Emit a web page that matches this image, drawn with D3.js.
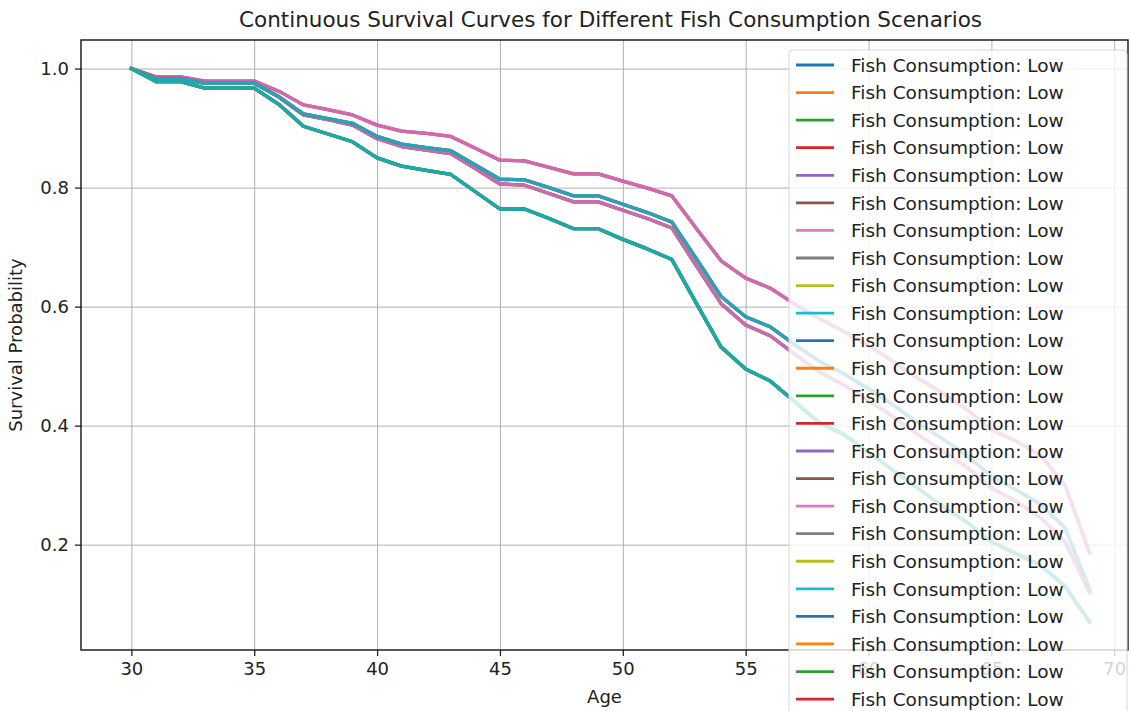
<!DOCTYPE html>
<html>
<head>
<meta charset="utf-8">
<script src="https://cdn.jsdelivr.net/npm/d3@7"></script>
<style>
    body { margin: 0; background: #fff; }
    text { font-family: "DejaVu Sans", sans-serif; fill: #222; }
</style>
</head>
<body>
<svg id="chart" width="1130" height="711"></svg>
<script>
// ages on the x axis
const ages = [30, 31, 32, 33, 34, 35, 36, 37, 38, 39, 40, 41, 42, 43, 44, 45, 46, 47, 48, 49,
    50, 51, 52, 53, 54, 55, 56, 57, 58, 59, 60, 61, 62, 63, 64, 65, 66, 67, 68, 69];

// the four distinct curves that the series fall on
const survivalA = [1.000, 0.986, 0.986, 0.979, 0.979, 0.979, 0.962, 0.939, 0.931, 0.922,
    0.905, 0.895, 0.891, 0.886, 0.866, 0.846, 0.845, 0.834, 0.823, 0.823,
    0.811, 0.799, 0.786, 0.731, 0.677, 0.648, 0.631, 0.604, 0.580, 0.558,
    0.535, 0.508, 0.480, 0.455, 0.427, 0.393, 0.374, 0.350, 0.300, 0.186];
const survivalB = [1.000, 0.984, 0.984, 0.976, 0.976, 0.976, 0.952, 0.922, 0.914, 0.905,
    0.882, 0.869, 0.863, 0.857, 0.832, 0.806, 0.804, 0.790, 0.776, 0.776,
    0.762, 0.748, 0.732, 0.668, 0.605, 0.569, 0.551, 0.520, 0.490, 0.468,
    0.443, 0.415, 0.385, 0.358, 0.330, 0.295, 0.273, 0.245, 0.205, 0.119];
const survivalC = [1.000, 0.983, 0.983, 0.975, 0.975, 0.975, 0.953, 0.924, 0.916, 0.908,
    0.886, 0.873, 0.867, 0.862, 0.838, 0.814, 0.813, 0.800, 0.786, 0.786,
    0.772, 0.758, 0.742, 0.680, 0.617, 0.583, 0.566, 0.536, 0.508, 0.487,
    0.462, 0.435, 0.405, 0.378, 0.350, 0.315, 0.292, 0.268, 0.228, 0.125];
const survivalD = [1.000, 0.978, 0.978, 0.967, 0.967, 0.967, 0.940, 0.903, 0.890, 0.877,
    0.850, 0.836, 0.829, 0.822, 0.793, 0.764, 0.764, 0.748, 0.731, 0.731,
    0.713, 0.697, 0.679, 0.605, 0.532, 0.495, 0.475, 0.440, 0.405, 0.385,
    0.355, 0.325, 0.295, 0.265, 0.238, 0.205, 0.185, 0.165, 0.130, 0.070];
const curves = [survivalA, survivalB, survivalC, survivalD];

// 24 legend entries, all with the same label; which curve each one follows
const seriesLabel = "Fish Consumption: Low";
const seriesCurve = [2, 2, 3, 0, 1, 1, 1, 3, 3, 3, 2, 2, 3, 1, 0, 1, 0, 3, 3, 2, 3, 2, 3, 0];
// order the lines are painted in (last one ends on top)
const drawOrder = [3, 23, 14, 16, 5, 13, 15, 4, 6, 1, 11, 21, 10, 0, 19, 7, 17, 8, 18, 2, 12, 22, 20, 9];

const xTicks = [30, 35, 40, 45, 50, 55, 60, 65, 70];
const yTicks = [0.2, 0.4, 0.6, 0.8, 1.0];

(function () {
    const colors = d3.schemeCategory10;

    let svg = d3.select("#chart");
    let plotLeft = 81, plotRight = 1128, plotTop = 40, plotBottom = 650;

    let x = d3.scaleLinear().domain([27.95, 70.56]).range([plotLeft, plotRight]);
    let y = d3.scaleLinear().domain([0.023, 1.048]).range([plotBottom, plotTop]);

    svg.append("defs").append("clipPath").attr("id", "plotClip")
        .append("rect")
        .attr("x", plotLeft).attr("y", plotTop)
        .attr("width", plotRight - plotLeft).attr("height", plotBottom - plotTop);

    // grid
    svg.append("g")
        .attr("transform", `translate(0,${plotBottom})`)
        .call(d3.axisBottom(x).tickValues(xTicks).tickSize(-(plotBottom - plotTop)).tickFormat(""))
        .call(g => g.select(".domain").remove())
        .selectAll("line").attr("stroke", "#b0b0b0").attr("stroke-width", 1);
    svg.append("g")
        .attr("transform", `translate(${plotLeft},0)`)
        .call(d3.axisLeft(y).tickValues(yTicks).tickSize(-(plotRight - plotLeft)).tickFormat(""))
        .call(g => g.select(".domain").remove())
        .selectAll("line").attr("stroke", "#b0b0b0").attr("stroke-width", 1);

    // lines
    let line = d3.line()
        .x((d, i) => x(ages[i]))
        .y(d => y(d));

    svg.append("g").attr("clip-path", "url(#plotClip)")
        .selectAll("path")
        .data(drawOrder)
        .enter()
        .append("path")
        .attr("d", s => line(curves[seriesCurve[s]]))
        .attr("fill", "none")
        .attr("stroke", s => colors[s % 10])
        .attr("stroke-opacity", 0.6)
        .attr("stroke-width", 3.3)
        .attr("stroke-linejoin", "round")
        .attr("stroke-linecap", "square");

    // axes
    let xAxis = svg.append("g")
        .attr("transform", `translate(0,${plotBottom})`)
        .call(d3.axisBottom(x).tickValues(xTicks).tickSize(6).tickPadding(6).tickFormat(d3.format("d")));
    let yAxis = svg.append("g")
        .attr("transform", `translate(${plotLeft},0)`)
        .call(d3.axisLeft(y).tickValues(yTicks).tickSize(6).tickPadding(6).tickFormat(d3.format(".1f")));
    [xAxis, yAxis].forEach(a => {
        a.select(".domain").remove();
        a.selectAll("line").attr("stroke", "#222").attr("stroke-width", 1.3);
        a.selectAll("text").style("font-family", "DejaVu Sans").style("font-size", "18px").attr("fill", "#222");
    });

    // spines
    svg.append("rect")
        .attr("x", plotLeft).attr("y", plotTop)
        .attr("width", plotRight - plotLeft).attr("height", plotBottom - plotTop)
        .attr("fill", "none").attr("stroke", "#111").attr("stroke-width", 1.4);

    // labels
    svg.append("text")
        .attr("x", (plotLeft + plotRight) / 2 + 6).attr("y", 27)
        .attr("text-anchor", "middle")
        .style("font-size", "21.5px")
        .text("Continuous Survival Curves for Different Fish Consumption Scenarios");
    svg.append("text")
        .attr("x", (plotLeft + plotRight) / 2).attr("y", 703)
        .attr("text-anchor", "middle")
        .style("font-size", "18px")
        .text("Age");
    svg.append("text")
        .attr("transform", `translate(22,${(plotTop + plotBottom) / 2}) rotate(-90)`)
        .attr("text-anchor", "middle")
        .style("font-size", "18px")
        .text("Survival Probability");

    // legend
    let rowH = 27.57;
    let legend = svg.append("g").attr("transform", "translate(789,50)");
    legend.append("rect")
        .attr("width", 338).attr("height", 8 + seriesCurve.length * rowH + 8)
        .attr("rx", 4)
        .attr("fill", "#fff").attr("fill-opacity", 0.8)
        .attr("stroke", "#d6d6d6").attr("stroke-width", 1);
    let rows = legend.selectAll(".legend-row")
        .data(seriesCurve)
        .enter()
        .append("g")
        .attr("class", "legend-row")
        .attr("transform", (d, i) => `translate(0,${15 + i * rowH})`);
    rows.append("line")
        .attr("x1", 7).attr("x2", 45)
        .attr("stroke", (d, i) => colors[i % 10])
        .attr("stroke-width", 2.8);
    rows.append("text")
        .attr("x", 62).attr("dy", "0.36em")
        .style("font-size", "18.5px")
        .text(seriesLabel);
})();
</script>
</body>
</html>
